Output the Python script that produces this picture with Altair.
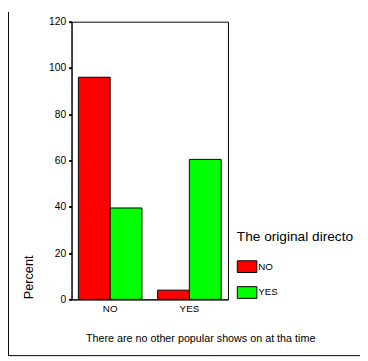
import altair as alt
import pandas as pd

# x categories (answers to "There are no other popular shows on at that time")
answers = ["NO", "YES"]
# legend series ("The original director ...")
series = ["NO", "YES"]
# percent values per series, in the order of `answers`
pct_series_no = [96.0, 4.0]
pct_series_yes = [39.5, 60.5]
y_ticks = [0, 20, 40, 60, 80, 100, 120]
colors = ["#FF0000", "#00FF00"]

rows = []
for a, v in zip(answers, pct_series_no):
    rows.append({"answer": a, "director": "NO", "percent": v})
for a, v in zip(answers, pct_series_yes):
    rows.append({"answer": a, "director": "YES", "percent": v})
df = pd.DataFrame(rows)

FONT = "Liberation Sans"

bars = alt.Chart(df).mark_bar(stroke="black", strokeWidth=1, opacity=1).encode(
    x=alt.X(
        "answer:N",
        sort=answers,
        scale=alt.Scale(paddingInner=0.1975, paddingOuter=0.0864),
        axis=alt.Axis(title=None, labelAngle=0, ticks=False, labelPadding=4,
                      labelFontSize=10, labelColor="black", domainColor="black"),
    ),
    xOffset=alt.XOffset("director:N", sort=series,
                        scale=alt.Scale(paddingInner=0, paddingOuter=0)),
    y=alt.Y(
        "percent:Q",
        scale=alt.Scale(domain=[0, 120], nice=False),
        axis=alt.Axis(title=None, values=y_ticks, grid=False, tickSize=3, tickWidth=2,
                      tickColor="black", labelPadding=3, labelFontSize=10.5,
                      labelColor="black", domainColor="black"),
    ),
    color=alt.Color(
        "director:N",
        sort=series,
        scale=alt.Scale(domain=series, range=colors),
        legend=alt.Legend(
            title="The original directo",
            orient="none", legendX=169, legendY=213, padding=0,
            titleFontSize=14, titleFontWeight="normal", titleColor="black",
            titleLimit=300, titlePadding=13,
            symbolType="M-1,-0.6H1V0.6H-1Z", symbolSize=400,
            symbolStrokeColor="black", symbolStrokeWidth=1, symbolOpacity=1,
            labelFontSize=10, labelColor="black", labelOffset=1, rowPadding=7.5,
        ),
    ),
)

one = pd.DataFrame({"a": [0]})

frame_left = alt.Chart(one).mark_rule(color="black", strokeWidth=1).encode(
    x=alt.value(-64.5), y=alt.value(-10), y2=alt.value(341.5)
)
frame_bottom = alt.Chart(one).mark_rule(color="black", strokeWidth=1).encode(
    x=alt.value(-65), x2=alt.value(295), y=alt.value(341.5)
)

x_title = alt.Chart(one).mark_text(fontSize=11, color="black", font=FONT).encode(
    x=alt.value(132), y=alt.value(325), text=alt.value("There are no other popular shows on at tha time")
)
y_title = alt.Chart(one).mark_text(fontSize=13, color="black", angle=270, font=FONT).encode(
    x=alt.value(-43), y=alt.value(261.5), text=alt.value("Percent")
)

chart = alt.layer(bars, frame_left, frame_bottom, x_title, y_title).properties(
    width=160, height=284,
    autosize=alt.AutoSizeParams(type="none"),
    padding={"left": 65, "top": 10, "right": 135, "bottom": 59},
    background="white",
).configure(font=FONT).configure_view(stroke="black", strokeWidth=1)

chart.save("out.html", embed_options={"renderer": "svg", "actions": False})
